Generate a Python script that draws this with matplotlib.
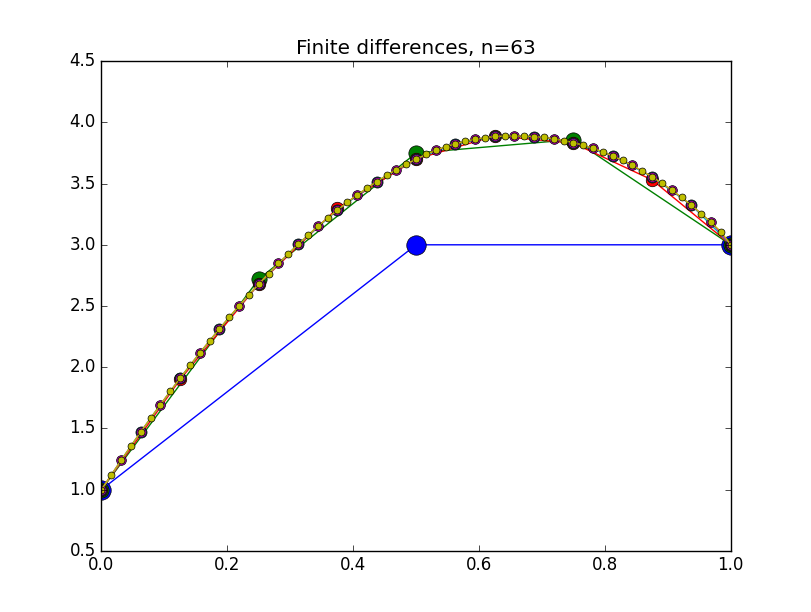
import matplotlib
matplotlib.use("Agg")
import matplotlib.pyplot as plt
import numpy as np

plt.style.use("classic")

y63 = [1.000,1.121,1.240,1.357,1.472,1.585,1.695,1.804,1.911,2.015,2.117,2.217,2.314,2.410,2.502,2.593,
       2.680,2.765,2.848,2.927,3.004,3.079,3.150,3.219,3.284,3.347,3.407,3.464,3.517,3.568,3.615,3.659,
       3.700,3.738,3.772,3.803,3.825,3.846,3.862,3.875,3.885,3.888,3.889,3.888,3.884,3.877,3.866,3.852,
       3.835,3.813,3.788,3.759,3.726,3.689,3.648,3.603,3.555,3.503,3.447,3.387,3.323,3.255,3.183,3.107,3.000]
y31 = y63[::2]
y15 = y63[::4]
y7 = [1.0,1.90,2.68,3.30,3.70,3.89,3.83,3.53,3.0]
y3 = [1.0,2.72,3.75,3.86,3.0]
y1 = [1.0,3.0,3.0]

series = [(y1,'b',14),(y3,'g',11),(y7,'r',9),(y15,'c',8),(y31,'m',7),(y63,'y',5)]

fig = plt.figure(figsize=(8.12,6.12), dpi=100)
ax = fig.add_subplot(111)
for y,c,ms in series:
    x = np.linspace(0,1,len(y))
    ax.plot(x,y,'-o',color=c,markersize=ms)
ax.set_xlim(0,1)
ax.set_ylim(0.5,4.5)
ax.set_title("Finite differences, n=63")
fig.savefig("out.png", dpi=100)
